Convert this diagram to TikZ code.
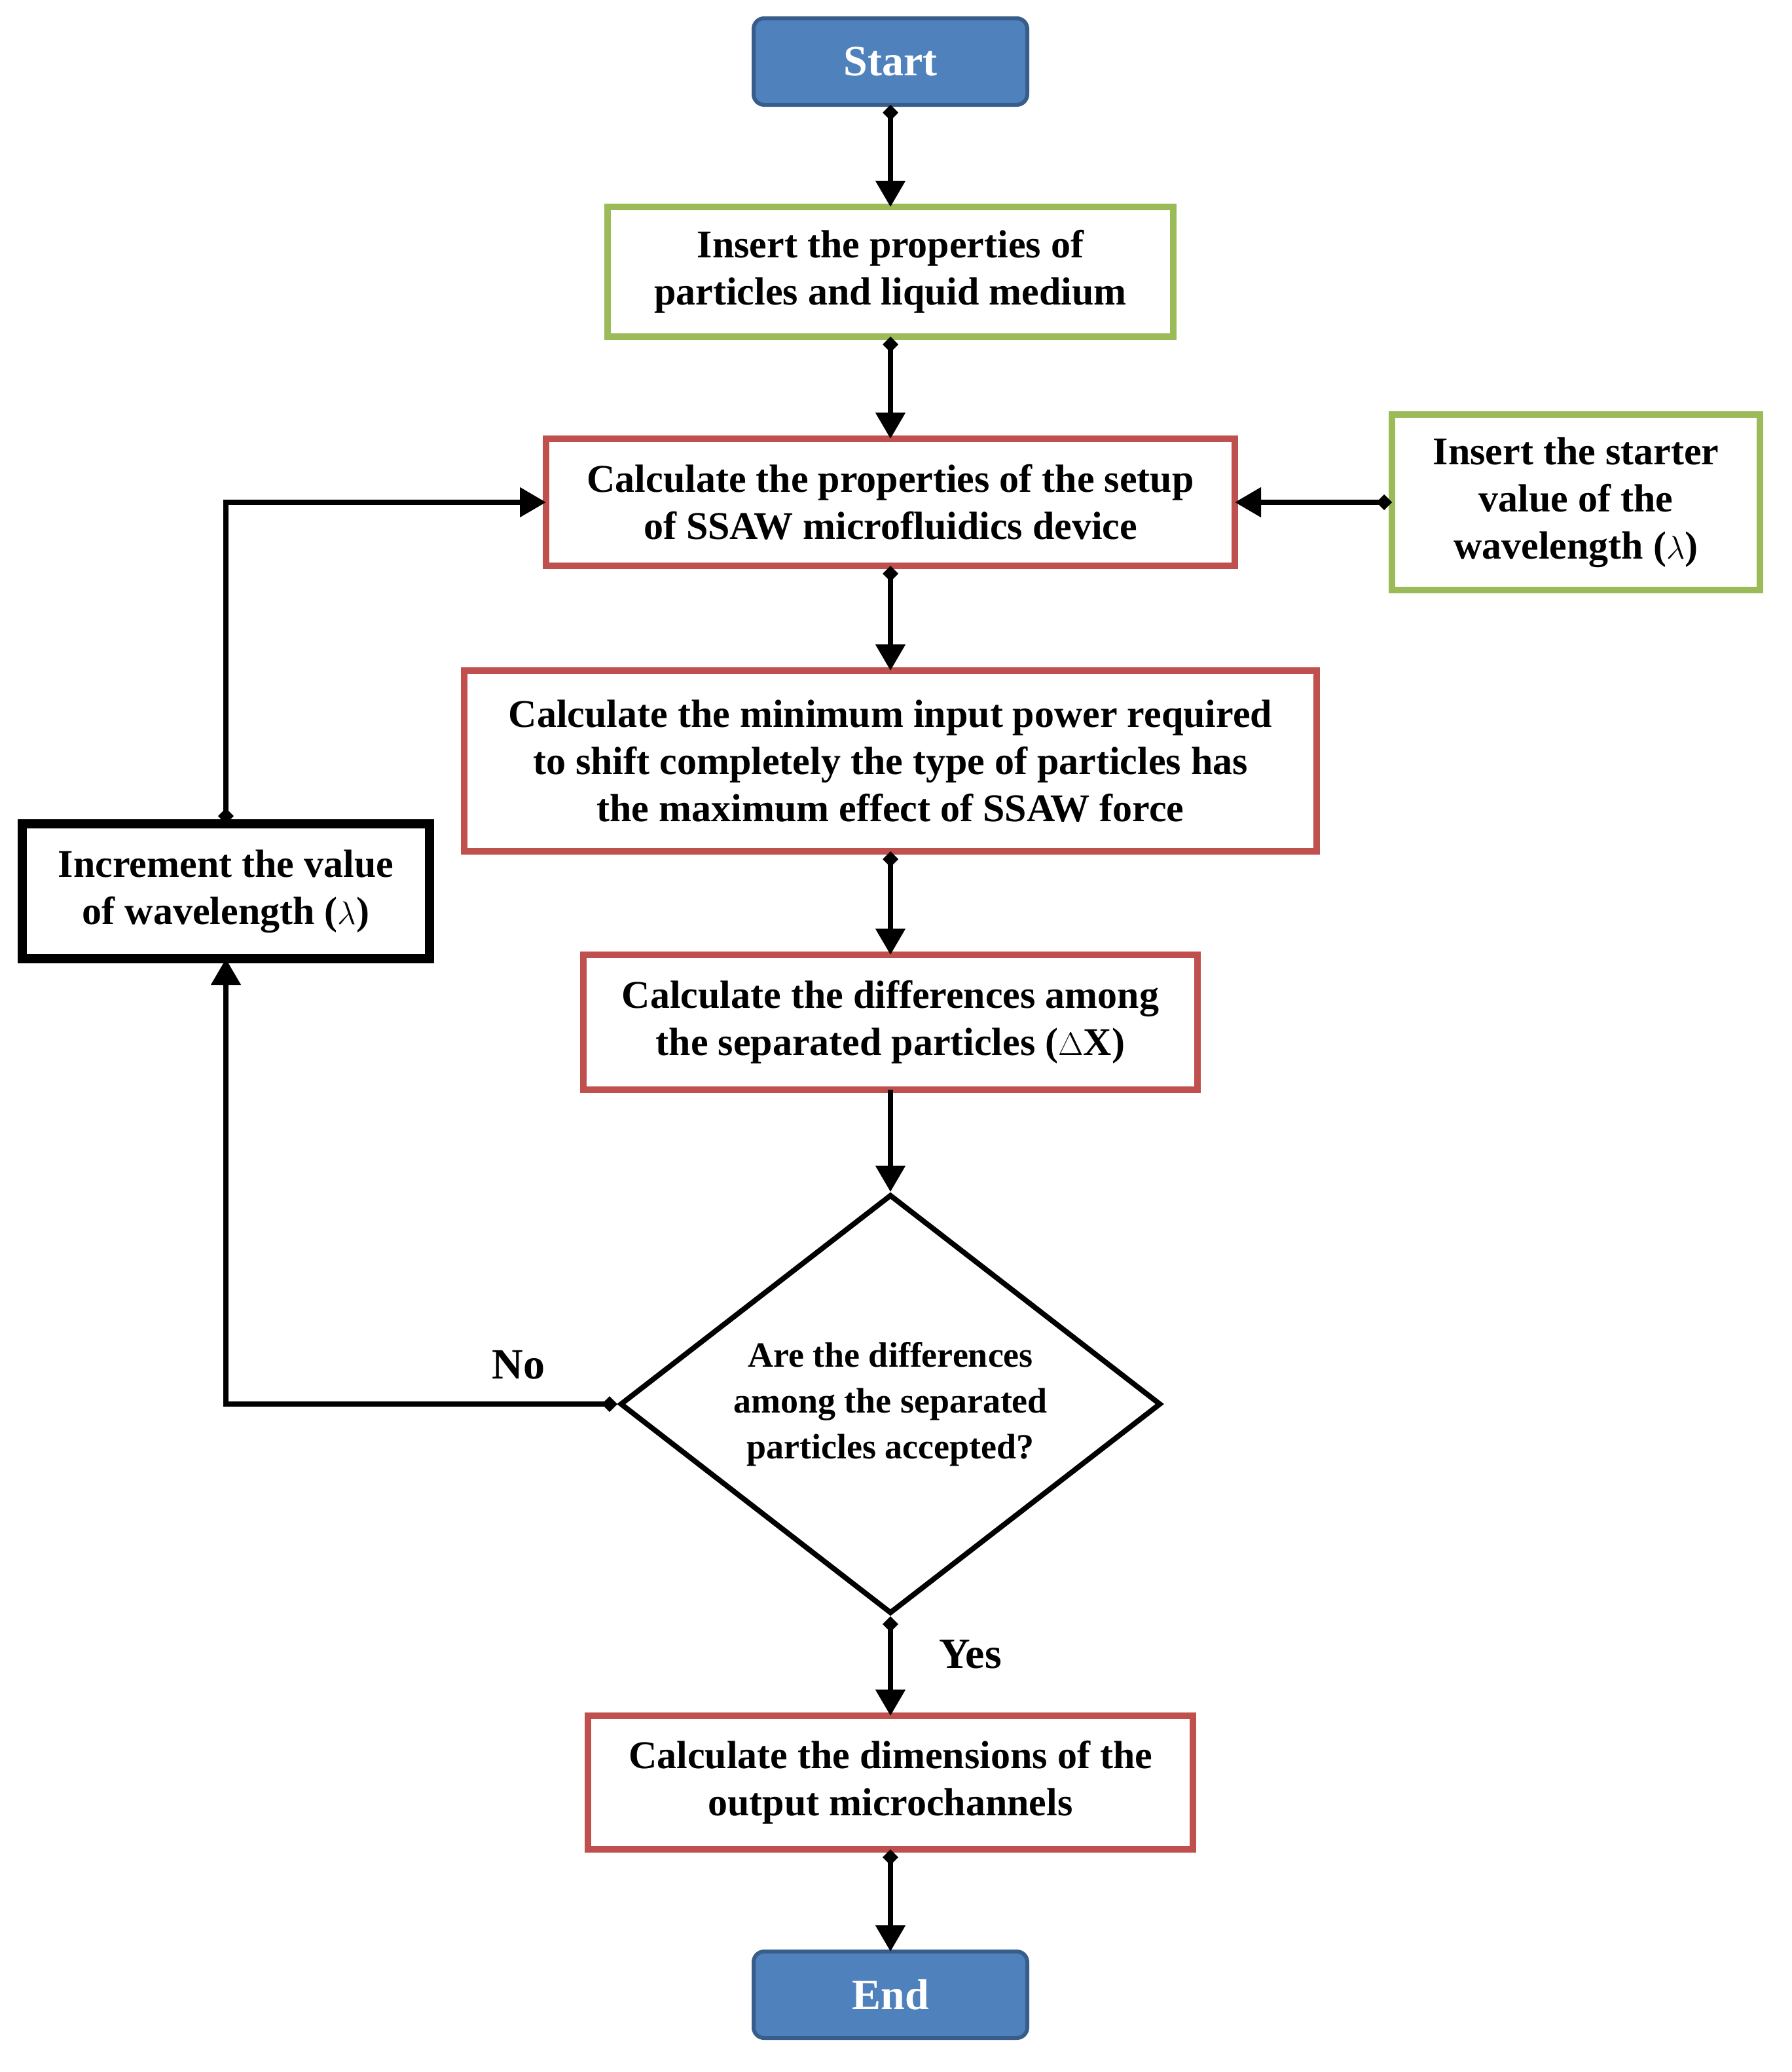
\documentclass[tikz,border=0pt]{standalone}
\usepackage{fontspec}
\setmainfont{Liberation Serif}
\usetikzlibrary{arrows.meta,shapes.geometric}
\definecolor{bfill}{HTML}{4F81BD}
\definecolor{bdraw}{HTML}{385D8A}
\definecolor{gr}{HTML}{9BBB59}
\definecolor{rd}{HTML}{C0504D}
\begin{document}
\begin{tikzpicture}[x=1pt,y=-1pt,
 txt/.style={font=\fontsize{30}{36}\selectfont\bfseries,align=center,inner sep=0pt,outer sep=0pt},
 term/.style={txt,rounded corners=8pt,fill=bfill,draw=bdraw,line width=3pt,text=white,font=\fontsize{33}{36}\selectfont\bfseries},
 gbox/.style={txt,draw=gr,line width=5pt},
 rbox/.style={txt,draw=rd,line width=5pt},
 kbox/.style={txt,draw=black,line width=7pt},
 arr/.style={line width=4pt,{Diamond[length=12pt,width=12pt]}-{Triangle[length=20pt,width=22pt]}},
 arrn/.style={line width=4pt,-{Triangle[length=20pt,width=22pt]}}]
\useasboundingbox (0,0) rectangle (1368,1582);
\node[term,minimum width=209pt,minimum height=66pt] (start) at (680,47) {Start};
\node[gbox,minimum width=432pt,minimum height=99pt] (ins) at (680,207.5) {Insert the properties of\\particles and liquid medium};
\node[rbox,minimum width=526pt,minimum height=97pt] (setup) at (680,383.5) {Calculate the properties of the setup\\of SSAW microfluidics device};
\node[gbox,minimum width=281pt,minimum height=134pt] (starter) at (1203.5,383.5) {Insert the starter\\value of the\\wavelength ($\lambda$)};
\node[rbox,minimum width=651pt,minimum height=138pt] (minp) at (680,581) {Calculate the minimum input power required\\to shift completely the type of particles has\\the maximum effect of SSAW force};
\node[kbox,minimum width=311pt,minimum height=103pt] (inc) at (172.5,680.5) {Increment the value\\of wavelength ($\lambda$)};
\node[rbox,minimum width=469pt,minimum height=103pt] (diff) at (680,780.5) {Calculate the differences among\\the separated particles ($\Delta$X)};
\node[draw,line width=4pt,diamond,aspect=1.29,minimum width=413pt,minimum height=320pt,inner sep=0pt,align=center,font=\fontsize{27}{35}\selectfont\bfseries] (dec) at (680,1072) {Are the differences\\among the separated\\particles accepted?};
\node[rbox,minimum width=462pt,minimum height=102pt] (dims) at (680,1361) {Calculate the dimensions of the\\output microchannels};
\node[term,minimum width=209pt,minimum height=66pt] (end) at (680,1523) {End};
\draw[arr] (start.south) -- (ins.north);
\draw[arr] (ins.south) -- (setup.north);
\draw[arr] (starter.west) -- (setup.east);
\draw[arr] (setup.south) -- (minp.north);
\draw[arr] (minp.south) -- (diff.north);
\draw[arrn] (diff.south) -- (dec.north);
\draw[arr] (dec.south) -- (dims.north);
\draw[arr] (dims.south) -- (end.north);
\draw[arr] (dec.west) -| (inc.south);
\draw[arr] (inc.north) |- (setup.west);
\node[txt,font=\fontsize{33}{36}\selectfont\bfseries] at (396,1042) {No};
\node[txt,font=\fontsize{33}{36}\selectfont\bfseries] at (741,1263) {Yes};
\end{tikzpicture}
\end{document}
